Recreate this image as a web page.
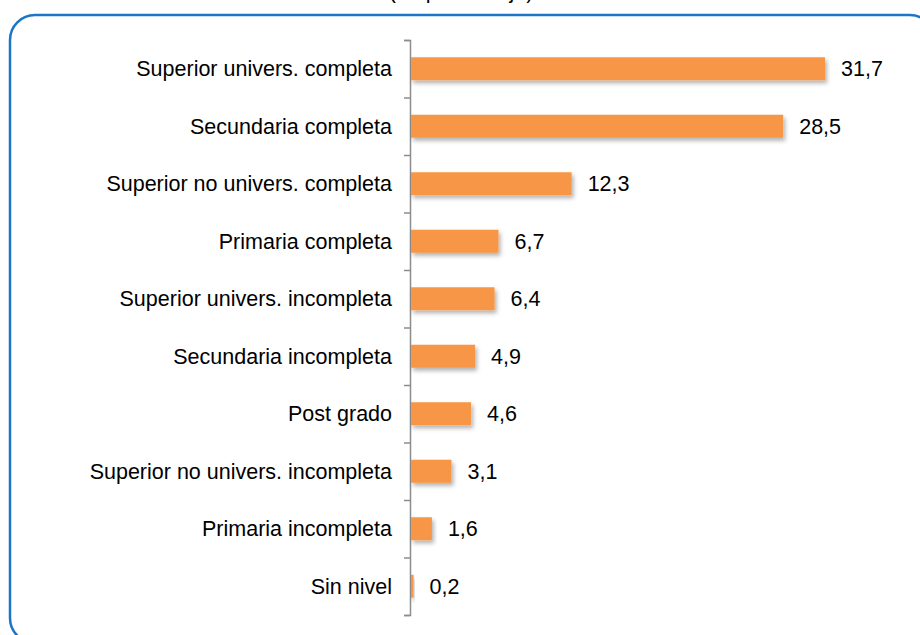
<!DOCTYPE html>
<html>
<head>
<meta charset="utf-8">
<script src="https://cdn.jsdelivr.net/npm/d3@7"></script>
<style>
  body { margin: 0; background: #fff; }
  svg { display: block; font-family: Arial, "Liberation Sans", sans-serif; }
</style>
</head>
<body>
<div id="chart"></div>
<script>
const categories = [
  'Superior univers. completa',
  'Secundaria completa',
  'Superior no univers. completa',
  'Primaria completa',
  'Superior univers. incompleta',
  'Secundaria incompleta',
  'Post grado',
  'Superior no univers. incompleta',
  'Primaria incompleta',
  'Sin nivel'
]
const values = [31.7, 28.5, 12.3, 6.7, 6.4, 4.9, 4.6, 3.1, 1.6, 0.2]
const title = '(en porcentaje)'

const width = 920
const height = 635
const margin = { top: 40, left: 410, right: 85, bottom: 20 }
const fontSize = '21.5px'

const svg = d3
  .select('#chart')
  .append('svg')
  .attr('width', width)
  .attr('height', height)

// soft shadow under the bars
const defs = svg.append('defs')
defs
  .append('filter')
  .attr('id', 'shadow')
  .attr('x', '-10%')
  .attr('y', '-30%')
  .attr('width', '130%')
  .attr('height', '180%')
  .append('feDropShadow')
  .attr('dx', 2)
  .attr('dy', 3)
  .attr('stdDeviation', 2)
  .attr('flood-color', '#000')
  .attr('flood-opacity', 0.3)

// rounded frame, runs off the page on the right and bottom
svg
  .append('rect')
  .attr('x', 10)
  .attr('y', 15)
  .attr('width', 925)
  .attr('height', 628)
  .attr('rx', 25)
  .attr('fill', 'none')
  .attr('stroke', '#1C75C6')
  .attr('stroke-width', 2.5)

// title, mostly cut off at the top edge (as in the source image)
svg
  .append('text')
  .attr('x', 461)
  .attr('y', -2)
  .attr('text-anchor', 'middle')
  .style('font-size', fontSize)
  .style('fill', '#000')
  .text(title)

const plotH = 575

const x = d3
  .scaleLinear()
  .domain([0, 31.7])
  .range([margin.left + 1, 825])

const y = d3
  .scaleBand()
  .domain(categories)
  .range([margin.top, margin.top + plotH])
  .paddingInner(0.6)
  .paddingOuter(0.3)

// axis with ticks at the band boundaries
const edge = d3
  .scaleLinear()
  .domain([0, categories.length])
  .range([margin.top, margin.top + plotH])

const axis = svg
  .append('g')
  .attr('transform', `translate(${margin.left},0)`)
  .call(
    d3
      .axisLeft(edge)
      .tickValues(d3.range(0, categories.length + 1))
      .tickFormat('')
      .tickSize(6)
      .tickSizeOuter(6)
  )
axis.selectAll('path, line').attr('stroke', '#8c8c8c').attr('stroke-width', 1.5)

svg
  .selectAll('.bar')
  .data(values)
  .enter()
  .append('rect')
  .attr('class', 'bar')
  .attr('x', x(0))
  .attr('y', (d, i) => y(categories[i]))
  .attr('width', d => x(d) - x(0))
  .attr('height', y.bandwidth())
  .attr('fill', '#F79646')
  .attr('filter', 'url(#shadow)')

svg
  .selectAll('.value-label')
  .data(values)
  .enter()
  .append('text')
  .attr('class', 'value-label')
  .attr('x', d => x(d) + 16)
  .attr('y', (d, i) => y(categories[i]) + y.bandwidth() / 2)
  .attr('dy', '0.35em')
  .style('font-size', fontSize)
  .style('fill', '#000')
  .text(d => d3.format('.1f')(d).replace('.', ','))

svg
  .selectAll('.cat-label')
  .data(categories)
  .enter()
  .append('text')
  .attr('class', 'cat-label')
  .attr('x', margin.left - 18)
  .attr('y', d => y(d) + y.bandwidth() / 2)
  .attr('dy', '0.35em')
  .attr('text-anchor', 'end')
  .style('font-size', fontSize)
  .style('fill', '#000')
  .text(d => d)
</script>
</body>
</html>
